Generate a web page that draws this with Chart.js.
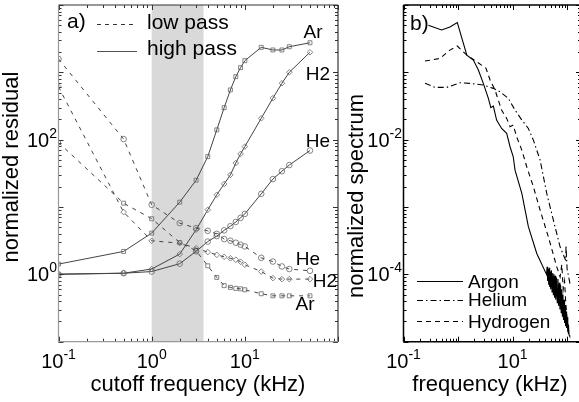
<!DOCTYPE html>
<html>
<head>
<meta charset="utf-8">
<script src="https://cdn.jsdelivr.net/npm/chart.js@4.4.1/dist/chart.umd.min.js"></script>
<style>
html, body { margin:0; padding:0; background:#fff; width:579px; height:402px; overflow:hidden; position:relative; }
canvas { position:absolute; top:0; }
#cA { left:0; }
#cB { left:345px; }
.t { position:absolute; white-space:nowrap; font-family:"Liberation Sans", Arial, sans-serif; color:#000; line-height:1; }
.tick { font-size:20px; }
.tick sup { font-size:14px; vertical-align:baseline; position:relative; top:-9px; }
.title { font-size:22px; }
.ann { font-size:19px; }
.leg { font-size:21px; }
</style>
</head>
<body>
<canvas id="cA" width="345" height="402"></canvas>
<canvas id="cB" width="240" height="402"></canvas>
<script>
// ---- panel a: residual vs cutoff frequency ----
let cutoff = [0.1, 0.5, 1, 2, 3, 4, 5, 6, 7, 8, 9, 10, 15, 20, 25, 30, 50]

let hpAr = [1.42, 2.19, 4.1, 11.8, 25, 56, 140, 299, 548, 863, 1175, 1492, 2350, 2150, 2150, 2400, 2750]
let hpH2 = [1.01, 1.04, 1.2, 2.0, 4.6, 9.1, 15.2, 22, 30, 45, 61.5, 79, 208, 413, 689, 1002, 1986]
let hpHe = [1.0, 1.04, 1.1, 1.44, 2.2, 3.07, 3.7, 4.5, 5.2, 6.0, 6.9, 7.9, 15.7, 26, 34, 42, 69]

let lpHe = [1580, 102, 10.8, 5.77, 4.86, 4.43, 4.0, 3.34, 3.16, 2.95, 2.76, 2.6, 1.76, 1.55, 1.31, 1.20, 1.13]
let lpH2 = [610, 8.4, 3.15, 2.91, 2.45, 2.14, 1.95, 1.82, 1.73, 1.65, 1.54, 1.39, 1.10, 0.88, 0.85, 0.85, 0.85]
let lpAr = [90.6, 11.4, 6.7, 2.97, 2.24, 1.34, 0.90, 0.68, 0.64, 0.62, 0.61, 0.59, 0.515, 0.48, 0.48, 0.48, 0.48]

let band = [1, 3.6]

// ---- panel b: spectra ----
let fAr = [0.285, 0.5, 0.71, 0.97, 1.45, 1.91, 2.36, 2.91, 3.6, 4.0, 4.45, 5.1, 6.3, 7.8, 9.0, 10.3, 11.1, 14.8, 19.5, 27.8,
           42, 43, 44, 45, 46, 47, 48, 49, 50, 51.5, 53, 54.5, 56, 57.5, 59, 60.5, 62, 64, 66, 68, 70, 72, 74, 76, 78, 80,
           82, 84, 86, 88, 90, 92, 94, 96, 98, 100, 103, 106, 109, 112]
let sAr = [0.5, 0.425, 0.47, 0.55, 0.18, 0.152, 0.108, 0.0686, 0.041, 0.030, 0.0316, 0.0196, 0.0147, 0.0124, 0.00785, 0.00557, 0.00353, 0.00159, 5.1e-4, 2.04e-4,
           1.0e-4, 1.3e-4, 8.0e-5, 1.2e-4, 7.0e-5, 1.25e-4, 6.5e-5, 1.1e-4, 6.0e-5, 1.15e-4, 5.5e-5, 1.05e-4, 5.0e-5, 1.0e-4, 4.5e-5, 9.5e-5, 4.2e-5,
           9.0e-5, 3.8e-5, 8.5e-5, 3.4e-5, 7.5e-5, 3.0e-5, 7.0e-5, 2.7e-5, 6.0e-5, 2.4e-5, 5.0e-5, 2.1e-5, 4.2e-5, 1.9e-5, 3.5e-5, 1.7e-5,
           2.8e-5, 1.6e-5, 2.3e-5, 1.4e-5, 1.8e-5, 1.25e-5, 1.2e-5]

let fHe = [0.248, 0.378, 0.62, 1.09, 1.66, 2.91, 4.45, 5.9, 8.4, 11.1, 14.8, 19.5, 24.1, 32, 42.4, 56, 74.5, 94.6, 95.5, 100, 113]
let sHe = [0.0686, 0.0598, 0.0598, 0.07, 0.0686, 0.0648, 0.0578, 0.0515, 0.041, 0.0275, 0.0196, 0.0147, 0.00986, 0.00498, 0.00159, 6.4e-4, 2.56e-4, 1.6e-4, 2.7e-4, 1.2e-4, 7.3e-5]

let fH2 = [0.248, 0.468, 0.71, 0.97, 1.45, 2.2, 3.26, 3.87, 4.77, 6.3, 7.8, 9.0, 10.3, 11.9, 14.8, 18.2, 24.1, 32, 45.4, 64.7, 74.5, 80, 85, 90, 95, 100, 106]
let sH2 = [0.147, 0.161, 0.214, 0.246, 0.18, 0.144, 0.115, 0.077, 0.0546, 0.0275, 0.0207, 0.0156, 0.0165, 0.011, 0.0070, 0.00396, 0.002, 9e-4, 3.6e-4, 1.29e-4, 9.2e-5, 1.4e-4, 6e-5, 8e-5, 3.5e-5, 2.2e-5, 1.3e-5]

const pts = (xs, ys) => xs.map((x, i) => ({x: x, y: ys[i]}))

const lowSet = (ys, shape) => ({
    data: pts(cutoff, ys), borderColor: '#444', borderWidth: 1, borderDash: [4, 5],
    pointStyle: shape, pointRadius: 2.8, pointBorderColor: '#666', pointBorderWidth: 0.8,
    pointBackgroundColor: 'rgba(0,0,0,0)', tension: 0
})
const highSet = (ys, shape) => ({
    data: pts(cutoff, ys), borderColor: '#444', borderWidth: 1,
    pointStyle: shape, pointRadius: 2.8, pointBorderColor: '#666', pointBorderWidth: 0.8,
    pointBackgroundColor: 'rgba(0,0,0,0)', tension: 0
})

//draw log ticks inward on all four sides
const drawBox = (chart, cLeftBottom, cTopRight, wide) => {
    const ctx = chart.ctx
    const a = chart.chartArea
    const sx = chart.scales.x, sy = chart.scales.y
    ctx.save()
    ctx.lineWidth = 1
    ctx.strokeStyle = cTopRight
    const tick = (x1, y1, x2, y2) => { ctx.beginPath(); ctx.moveTo(x1, y1); ctx.lineTo(x2, y2); ctx.stroke() }
    for (let d = Math.floor(Math.log10(sx.min)); d <= Math.ceil(Math.log10(sx.max)); d++) {
        for (let k = 1; k <= 9; k++) {
            const v = k * Math.pow(10, d)
            if (v < sx.min || v > sx.max) continue
            const p = Math.round(sx.getPixelForValue(v)) + 0.5
            const len = k === 1 ? 5 : 3
            tick(p, a.bottom, p, a.bottom - len)
            tick(p, a.top, p, a.top + len)
        }
    }
    for (let d = Math.floor(Math.log10(sy.min)); d <= Math.ceil(Math.log10(sy.max)); d++) {
        for (let k = 1; k <= 9; k++) {
            const v = k * Math.pow(10, d)
            if (v < sy.min || v > sy.max) continue
            const p = Math.round(sy.getPixelForValue(v)) + 0.5
            const len = k === 1 ? 5 : 3
            tick(a.left, p, a.left + len, p)
            tick(a.right, p, a.right - len, p)
        }
    }
    ctx.lineWidth = wide
    ctx.strokeStyle = cTopRight
    tick(a.left, a.top, a.right, a.top)
    tick(a.right, a.top, a.right, a.bottom)
    ctx.strokeStyle = cLeftBottom
    tick(a.left, a.top, a.left, a.bottom)
    tick(a.left, a.bottom, a.right, a.bottom)
    ctx.restore()
}

const panelA = {
    id: 'panelA',
    beforeDatasetsDraw(chart) {
        const ctx = chart.ctx, a = chart.chartArea, sx = chart.scales.x
        const x1 = sx.getPixelForValue(band[0]), x2 = sx.getPixelForValue(band[1])
        ctx.save()
        ctx.fillStyle = '#d9d9d9'
        ctx.fillRect(x1, a.top, x2 - x1, a.bottom - a.top)
        ctx.restore()
    },
    afterDraw(chart) {
        drawBox(chart, '#999', '#333', 1.2)
        const ctx = chart.ctx
        ctx.save()
        ctx.lineWidth = 1
        ctx.strokeStyle = '#333'
        ctx.setLineDash([4, 4])
        ctx.beginPath(); ctx.moveTo(97, 24.5); ctx.lineTo(137, 24.5); ctx.stroke()
        ctx.setLineDash([])
        ctx.strokeStyle = '#555'
        ctx.beginPath(); ctx.moveTo(97, 51.5); ctx.lineTo(137, 51.5); ctx.stroke()
        ctx.restore()
    }
}

const panelB = {
    id: 'panelB',
    afterDraw(chart) {
        drawBox(chart, '#000', '#000', 1.5)
        const ctx = chart.ctx
        ctx.save()
        ctx.strokeStyle = '#000'
        ctx.lineWidth = 1.2
        ctx.beginPath(); ctx.moveTo(72, 281.5); ctx.lineTo(118, 281.5); ctx.stroke()
        ctx.setLineDash([6, 3, 1.5, 3])
        ctx.beginPath(); ctx.moveTo(72, 300.5); ctx.lineTo(118, 300.5); ctx.stroke()
        ctx.setLineDash([5, 4])
        ctx.beginPath(); ctx.moveTo(72, 321.5); ctx.lineTo(118, 321.5); ctx.stroke()
        ctx.restore()
    }
}

const chartA = new Chart(document.getElementById('cA').getContext('2d'), {
    type: 'line',
    data: {
        datasets: [
            lowSet(lpHe, 'circle'), lowSet(lpH2, 'rectRot'), lowSet(lpAr, 'rect'),
            highSet(hpAr, 'rect'), highSet(hpH2, 'rectRot'), highSet(hpHe, 'circle')
        ]
    },
    options: {
        responsive: false, animation: false, events: [],
        layout: { padding: { left: 58.5, right: 7, top: 5, bottom: 60.3 } },
        plugins: { legend: { display: false }, tooltip: { enabled: false } },
        scales: {
            x: { type: 'logarithmic', min: 0.1, max: 100, display: false },
            y: { type: 'logarithmic', min: 0.1, max: 10000, display: false }
        }
    },
    plugins: [panelA]
})

const specSet = (xs, ys, dash) => ({
    data: pts(xs, ys), borderColor: '#000', borderWidth: 1.1, borderDash: dash,
    pointRadius: 0, tension: 0
})

const chartB = new Chart(document.getElementById('cB').getContext('2d'), {
    type: 'line',
    data: {
        datasets: [
            specSet(fHe, sHe, [6, 3, 1.5, 3]),
            specSet(fH2, sH2, [5, 4]),
            specSet(fAr, sAr, [])
        ]
    },
    options: {
        responsive: false, animation: false, events: [],
        layout: { padding: { left: 58.5, right: 4, top: 5, bottom: 60.3 } },
        plugins: { legend: { display: false }, tooltip: { enabled: false } },
        scales: {
            x: { type: 'logarithmic', min: 0.1, max: 180, display: false },
            y: { type: 'logarithmic', min: 1e-5, max: 1, display: false }
        }
    },
    plugins: [panelB]
})

//text overlays
const addText = (html, x, y, cls, tx, ty, rot) => {
    const d = document.createElement('div')
    d.className = 't ' + cls
    d.innerHTML = html
    d.style.left = x + 'px'
    d.style.top = y + 'px'
    d.style.transform = 'translate(' + tx + ',' + ty + ')' + (rot ? ' rotate(-90deg)' : '')
    document.body.appendChild(d)
}

let aXticks = [0.1, 1, 10], aXlab = ['-1', '0', '1']
let aYticks = [1, 100], aYlab = ['0', '2']
let bXticks = [0.1, 10], bXlab = ['-1', '1']
let bYticks = [1e-2, 1e-4], bYlab = ['-2', '-4']

aXticks.forEach((v, i) => addText('10<sup>' + aXlab[i] + '</sup>', chartA.scales.x.getPixelForValue(v), 351, 'tick', '-50%', '0'))
aYticks.forEach((v, i) => addText('10<sup>' + aYlab[i] + '</sup>', 57, chartA.scales.y.getPixelForValue(v), 'tick', '-100%', '-50%'))
bXticks.forEach((v, i) => addText('10<sup>' + bXlab[i] + '</sup>', 345 + chartB.scales.x.getPixelForValue(v), 351, 'tick', '-50%', '0'))
bYticks.forEach((v, i) => addText('10<sup>' + bYlab[i] + '</sup>', 402, chartB.scales.y.getPixelForValue(v), 'tick', '-100%', '-50%'))

addText('cutoff frequency (kHz)', 198, 384, 'title', '-50%', '-50%')
addText('frequency (kHz)', 490, 384, 'title', '-50%', '-50%')
addText('normalized residual', 11, 167, 'title', '-50%', '-50%', true)
addText('normalized spectrum', 356, 196, 'title', '-50%', '-50%', true)

addText('a)', 67, 20, 'leg', '0', '-50%')
addText('low pass', 147, 21, 'leg', '0', '-50%')
addText('high pass', 147, 47, 'leg', '0', '-50%')
addText('b)', 410, 22, 'leg', '0', '-50%')

addText('Ar', 313, 31, 'ann', '-50%', '-50%')
addText('H2', 318, 73, 'ann', '-50%', '-50%')
addText('He', 318, 140, 'ann', '-50%', '-50%')
addText('He', 308, 258, 'ann', '-50%', '-50%')
addText('H2', 325, 280, 'ann', '-50%', '-50%')
addText('Ar', 305, 303, 'ann', '-50%', '-50%')

addText('Argon', 468, 281, 'ann', '0', '-50%')
addText('Helium', 468, 299, 'ann', '0', '-50%')
addText('Hydrogen', 468, 321, 'ann', '0', '-50%')
</script>
</body>
</html>
